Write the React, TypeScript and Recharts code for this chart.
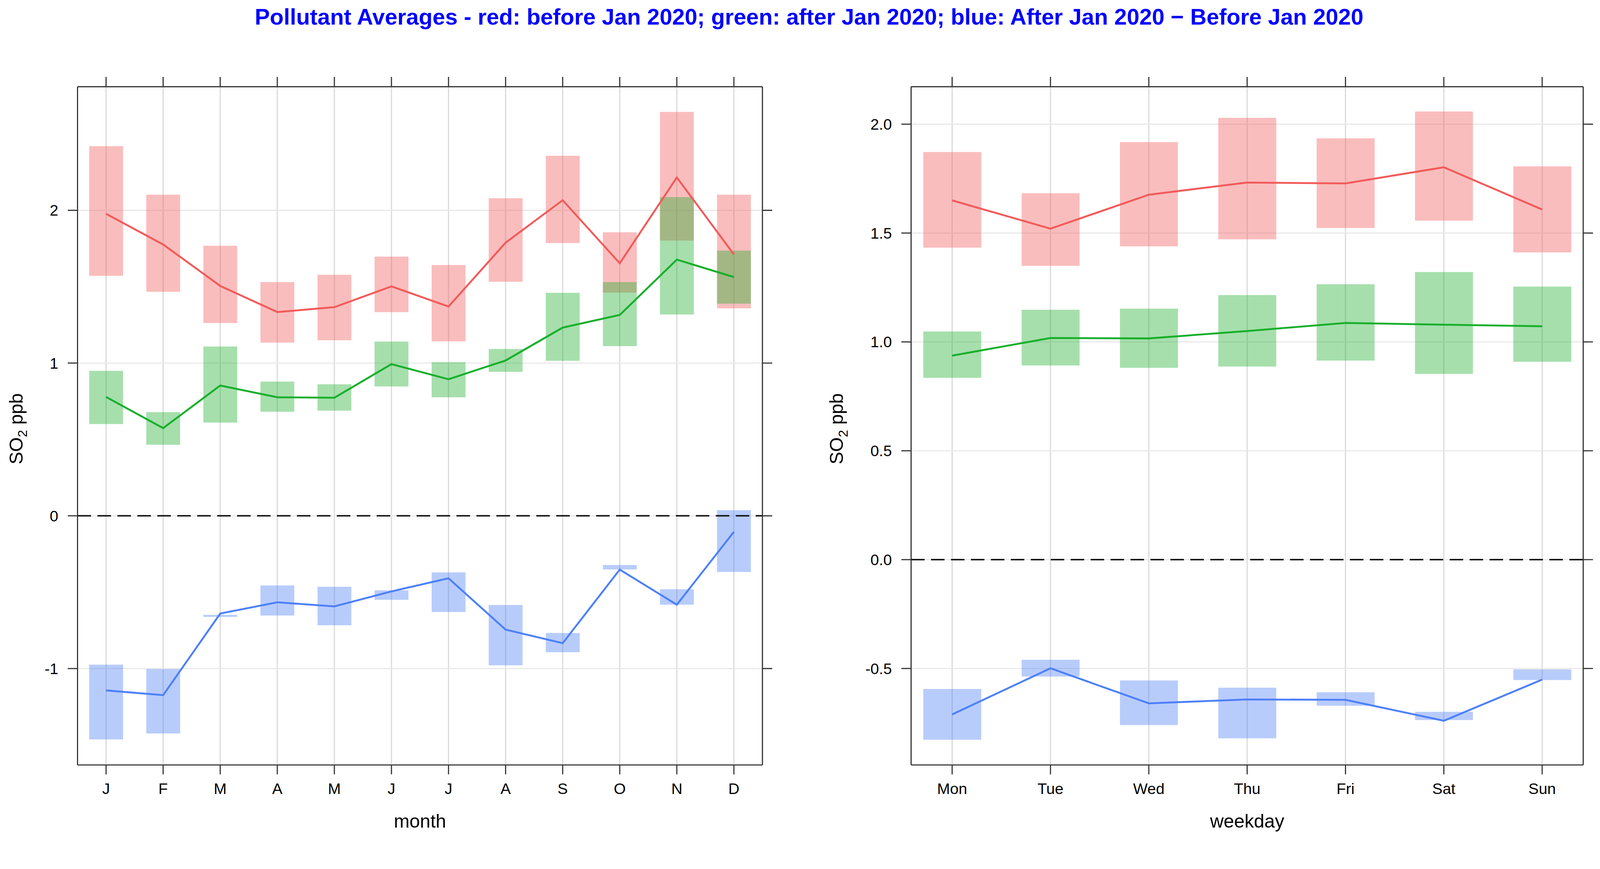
import React from 'react';
import {
  ComposedChart,
  Bar,
  Line,
  XAxis,
  YAxis,
  CartesianGrid,
  ReferenceLine,
  Label,
} from 'recharts';

// ---------- data: month panel ----------
const monthKeys = ['Jan', 'Feb', 'Mar', 'Apr', 'May', 'Jun', 'Jul', 'Aug', 'Sep', 'Oct', 'Nov', 'Dec'];
const monthLabels = ['J', 'F', 'M', 'A', 'M', 'J', 'J', 'A', 'S', 'O', 'N', 'D'];

const monthRedMean = [1.977, 1.776, 1.505, 1.334, 1.366, 1.502, 1.37, 1.788, 2.066, 1.653, 2.215, 1.711];
const monthRedLow = [1.571, 1.467, 1.262, 1.134, 1.149, 1.333, 1.142, 1.532, 1.786, 1.461, 1.802, 1.358];
const monthRedHigh = [2.42, 2.102, 1.768, 1.53, 1.578, 1.697, 1.642, 2.079, 2.357, 1.856, 2.644, 2.102];

const monthGreenMean = [0.778, 0.574, 0.853, 0.776, 0.773, 0.993, 0.894, 1.017, 1.232, 1.315, 1.677, 1.563];
const monthGreenLow = [0.601, 0.465, 0.61, 0.681, 0.688, 0.847, 0.776, 0.943, 1.015, 1.111, 1.318, 1.389];
const monthGreenHigh = [0.949, 0.679, 1.108, 0.879, 0.861, 1.141, 1.006, 1.092, 1.46, 1.53, 2.086, 1.736];

const monthBlueMean = [-1.143, -1.174, -0.64, -0.566, -0.593, -0.495, -0.409, -0.745, -0.834, -0.352, -0.582, -0.105];
const monthBlueLow = [-1.464, -1.425, -0.662, -0.653, -0.717, -0.55, -0.63, -0.979, -0.893, -0.351, -0.582, -0.368];
const monthBlueHigh = [-0.974, -1.003, -0.648, -0.456, -0.464, -0.488, -0.37, -0.584, -0.767, -0.322, -0.481, 0.037];

const monthYTicks = [-1, 0, 1, 2];
const monthYDomain = [-1.631, 2.809];

// ---------- data: weekday panel ----------
const dayKeys = ['Mon', 'Tue', 'Wed', 'Thu', 'Fri', 'Sat', 'Sun'];

const dayRedMean = [1.65, 1.52, 1.676, 1.732, 1.728, 1.802, 1.608];
const dayRedLow = [1.433, 1.349, 1.439, 1.471, 1.523, 1.557, 1.411];
const dayRedHigh = [1.872, 1.683, 1.918, 2.029, 1.935, 2.058, 1.806];

const dayGreenMean = [0.937, 1.018, 1.016, 1.05, 1.087, 1.079, 1.072];
const dayGreenLow = [0.835, 0.892, 0.881, 0.887, 0.914, 0.853, 0.909];
const dayGreenHigh = [1.048, 1.148, 1.153, 1.215, 1.265, 1.321, 1.254];

const dayBlueMean = [-0.711, -0.499, -0.66, -0.642, -0.644, -0.74, -0.551];
const dayBlueLow = [-0.827, -0.537, -0.76, -0.821, -0.671, -0.737, -0.553];
const dayBlueHigh = [-0.594, -0.46, -0.555, -0.588, -0.609, -0.699, -0.504];

const dayYTicks = [-0.5, 0, 0.5, 1, 1.5, 2];
const dayYDomain = [-0.943, 2.172];

const TITLE =
  'Pollutant Averages - red: before Jan 2020; green: after Jan 2020; blue: After Jan 2020 \u2212 Before Jan 2020';

// ---------- styling ----------
const FONT = '"Liberation Sans", Arial, Helvetica, sans-serif';
const RED_LINE = '#F25A5A';
const RED_FILL = '#F26161';
const GREEN_LINE = '#17AF2B';
const GREEN_FILL = '#20B030';
const BLUE_LINE = '#4D80F8';
const BLUE_FILL = '#4D7FF7';
const FRAME = '#333333';
const PAGE_SCALE = 0.9634;

function buildRows(
  keys: string[],
  rl: number[], rh: number[], rm: number[],
  gl: number[], gh: number[], gm: number[],
  bl: number[], bh: number[], bm: number[],
) {
  return keys.map((k, i) => ({
    key: k,
    red: [rl[i], rh[i]],
    redMean: rm[i],
    green: [gl[i], gh[i]],
    greenMean: gm[i],
    blue: [bl[i], bh[i]],
    blueMean: bm[i],
  }));
}

const monthRows = buildRows(
  monthKeys,
  monthRedLow, monthRedHigh, monthRedMean,
  monthGreenLow, monthGreenHigh, monthGreenMean,
  monthBlueLow, monthBlueHigh, monthBlueMean,
);

const dayRows = buildRows(
  dayKeys,
  dayRedLow, dayRedHigh, dayRedMean,
  dayGreenLow, dayGreenHigh, dayGreenMean,
  dayBlueLow, dayBlueHigh, dayBlueMean,
);

const YLabel = (props: any) => {
  const vb = props.viewBox || { x: 0, y: 0, width: 0, height: 0 };
  const bx = vb.x + vb.width - props.baseOffset;
  const cy = vb.y + vb.height / 2 + 8;
  return (
    <text
      x={bx}
      y={cy}
      transform={`rotate(-90 ${bx} ${cy})`}
      textAnchor="middle"
      fontFamily={FONT}
      fontSize={50}
      fill="#000"
    >
      SO
      <tspan dy={12} fontSize={35}>2</tspan>
      <tspan dy={-12}>{' ppb'}</tspan>
    </text>
  );
};

type PanelProps = {
  rows: any[];
  left: number;
  width: number;
  yAxisWidth: number;
  marginRight: number;
  barSize: number;
  xPad: number;
  yDomain: number[];
  yTicks: number[];
  yFmt: (v: number) => string;
  xFmt: (v: any, i: number) => string;
  xTitle: string;
  labelBaseOffset: number;
};

const axisLineStyle = { stroke: FRAME, strokeWidth: 3 };
const tickLineStyle = { stroke: FRAME, strokeWidth: 3 };
const tickText = { fontSize: 41, fill: '#000', fontFamily: FONT };

function Panel(p: PanelProps) {
  return (
    <div style={{ position: 'absolute', left: p.left, top: 0 }}>
      <ComposedChart
        width={p.width}
        height={2225}
        data={p.rows}
        margin={{ top: 200.5, right: p.marginRight, bottom: 26, left: 0 }}
        barGap={-p.barSize}
        barSize={p.barSize}
      >
        <CartesianGrid horizontal={false} vertical stroke="#D9D9D9" strokeWidth={3} />
        <CartesianGrid horizontal vertical={false} stroke="#E8E8E8" strokeWidth={3} />
        <XAxis
          dataKey="key"
          type="category"
          height={166}
          padding={{ left: p.xPad, right: p.xPad }}
          axisLine={axisLineStyle}
          tickLine={tickLineStyle}
          tickSize={25}
          tickMargin={23}
          tick={tickText}
          tickFormatter={p.xFmt}
          interval={0}
        >
          <Label value={p.xTitle} position="insideBottom" offset={0} fontSize={50} fill="#000" fontFamily={FONT} />
        </XAxis>
        <XAxis
          xAxisId="top"
          dataKey="key"
          type="category"
          orientation="top"
          height={30}
          padding={{ left: p.xPad, right: p.xPad }}
          axisLine={axisLineStyle}
          tickLine={tickLineStyle}
          tickSize={26}
          tick={tickText}
          tickFormatter={() => ''}
          interval={0}
        />
        <YAxis
          type="number"
          width={p.yAxisWidth}
          domain={p.yDomain}
          ticks={p.yTicks}
          allowDataOverflow
          axisLine={axisLineStyle}
          tickLine={tickLineStyle}
          tickSize={26}
          tickMargin={25}
          tick={tickText}
          tickFormatter={p.yFmt}
          interval={0}
        >
          <Label content={(lp: any) => <YLabel {...lp} baseOffset={p.labelBaseOffset} />} />
        </YAxis>
        <YAxis
          yAxisId="r"
          orientation="right"
          type="number"
          width={30}
          domain={p.yDomain}
          ticks={p.yTicks}
          allowDataOverflow
          axisLine={axisLineStyle}
          tickLine={tickLineStyle}
          tickSize={26}
          tick={tickText}
          tickFormatter={() => ''}
          interval={0}
        />
        <Bar dataKey="red" fill={RED_FILL} fillOpacity={0.42} isAnimationActive={false} />
        <Bar dataKey="green" fill={GREEN_FILL} fillOpacity={0.4} isAnimationActive={false} />
        <Bar dataKey="blue" fill={BLUE_FILL} fillOpacity={0.4} isAnimationActive={false} />
        <ReferenceLine y={0} stroke="#111" strokeWidth={4} strokeDasharray="36 17" />
        <Line type="linear" dataKey="redMean" stroke={RED_LINE} strokeWidth={5} dot={false} activeDot={false} isAnimationActive={false} />
        <Line type="linear" dataKey="greenMean" stroke={GREEN_LINE} strokeWidth={5} dot={false} activeDot={false} isAnimationActive={false} />
        <Line type="linear" dataKey="blueMean" stroke={BLUE_LINE} strokeWidth={5} dot={false} activeDot={false} isAnimationActive={false} />
      </ComposedChart>
    </div>
  );
}

export default function App() {
  return (
    <div
      style={{
        position: 'absolute',
        left: 0,
        top: 0,
        width: 4254,
        height: 2225,
        background: '#fff',
        overflow: 'hidden',
        fontFamily: FONT,
        transform: `scale(${PAGE_SCALE})`,
        transformOrigin: '0 0',
      }}
    >
      <svg style={{ position: 'absolute', left: 0, top: 0 }} width={4254} height={120}>
        <text x={2150} y={65} textAnchor="middle" fontFamily={FONT} fontWeight="bold" fontSize={60} fill="#0000FF">
          {TITLE}
        </text>
      </svg>
      <Panel
        rows={monthRows}
        left={0}
        width={2100}
        yAxisWidth={206}
        marginRight={44}
        barSize={90}
        xPad={0}
        yDomain={monthYDomain}
        yTicks={monthYTicks}
        yFmt={(v: number) => String(v)}
        xFmt={(_v: any, i: number) => monthLabels[i]}
        xTitle="month"
        labelBaseOffset={146}
      />
      <Panel
        rows={dayRows}
        left={2150}
        width={2104}
        yAxisWidth={271}
        marginRight={17}
        barSize={154}
        xPad={-21.6}
        yDomain={dayYDomain}
        yTicks={dayYTicks}
        yFmt={(v: number) => v.toFixed(1)}
        xFmt={(v: any) => String(v)}
        xTitle="weekday"
        labelBaseOffset={181}
      />
    </div>
  );
}
